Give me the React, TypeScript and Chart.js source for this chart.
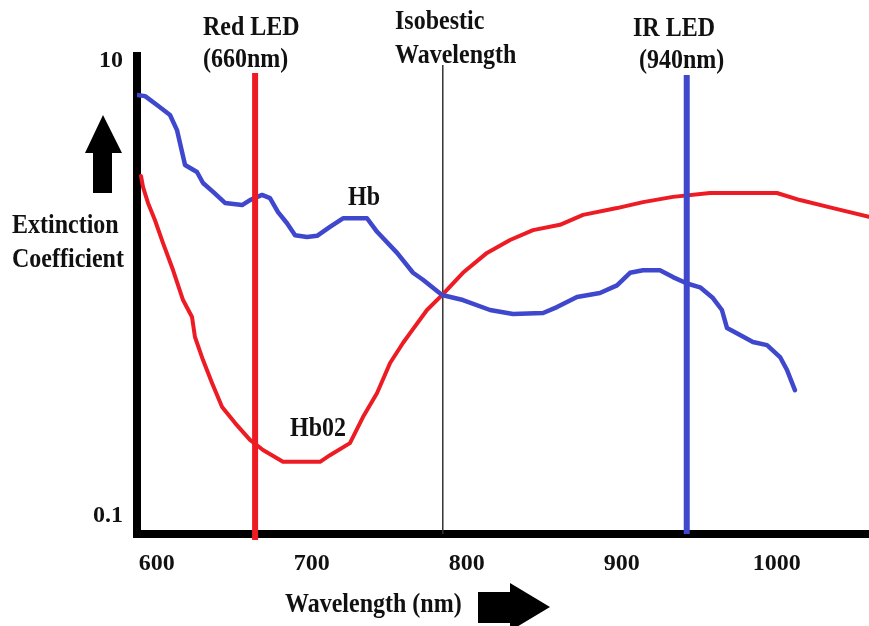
import React, { useEffect, useRef } from "react";
import { Chart, registerables } from "chart.js";

Chart.register(...registerables);

// Axis ticks
const wavelengthTicks = [600, 700, 800, 900, 1000];
const coefficientTicks = [0.1, 10];
const xRange = [587.2, 1059.5];
const yRange = [0.0834, 10.47];

// Hb (deoxy-haemoglobin) curve
const hbWavelength = [
  587.2, 592.4, 600.1, 608.5, 613.0, 618.2, 625.9, 629.8, 636.3, 644.0,
  655.0, 660.1, 667.9, 673.0, 678.2, 684.0, 689.2, 696.9, 703.4, 711.7,
  720.1, 735.6, 742.1, 755.0, 765.3, 771.7, 784.0, 797.5, 815.0, 829.8,
  849.2, 858.2, 871.1, 885.9, 896.9, 905.3, 913.7, 924.6, 933.0, 942.1,
  950.5, 958.8, 964.6, 967.9, 976.3, 984.6, 993.7, 1002.1, 1006.6, 1011.7,
];
const hbValues = [
  7.06, 6.98, 6.38, 5.77, 4.95, 3.48, 3.24, 2.9, 2.65, 2.37,
  2.32, 2.44, 2.57, 2.49, 2.16, 1.93, 1.71, 1.68, 1.7, 1.86,
  2.03, 2.03, 1.77, 1.43, 1.17, 1.09, 0.934, 0.888, 0.803, 0.771,
  0.779, 0.827, 0.915, 0.953, 1.03, 1.17, 1.2, 1.2, 1.12, 1.05,
  1.01, 0.906, 0.803, 0.669, 0.623, 0.581, 0.563, 0.499, 0.438, 0.357,
];

// HbO2 (oxy-haemoglobin) curve
const hbo2Wavelength = [
  589.8, 591.1, 594.3, 598.8, 604.0, 610.5, 616.9, 622.7, 624.6, 629.8,
  635.6, 642.1, 650.5, 660.1, 668.5, 681.4, 705.3, 711.7, 724.6, 733.0,
  742.1, 750.5, 758.8, 763.4, 774.3, 784.0, 797.5, 813.0, 827.9, 842.7,
  860.1, 875.0, 896.9, 913.7, 933.0, 956.9, 1000.1, 1015.0, 1036.3, 1059.5,
];
const hbo2Values = [
  3.11, 2.78, 2.37, 1.99, 1.58, 1.2, 0.888, 0.748, 0.611, 0.484,
  0.384, 0.301, 0.256, 0.216, 0.195, 0.173, 0.173, 0.185, 0.209, 0.272,
  0.347, 0.47, 0.575, 0.636, 0.803, 0.934, 1.17, 1.43, 1.63, 1.8,
  1.9, 2.1, 2.25, 2.39, 2.52, 2.62, 2.62, 2.44, 2.25, 2.06,
];

// Marker lines (wavelength, [bottom, top])
const redLedNm = 663.4;
const redLedSpan = [0.0785, 8.81];
const isobesticNm = 784.5;
const isobesticSpan = [0.0834, 9.56];
const irLedNm = 941.9;
const irLedSpan = [0.0834, 8.64];

const RED = "#ed1c24";
const BLUE = "#3f48cc";
const INK = "#111111";
const FONT = "'Liberation Serif', 'Times New Roman', serif";

const toPoints = (xs: number[], ys: number[]) => xs.map((x, i) => ({ x, y: ys[i] }));
const vLine = (x: number, span: number[]) => [
  { x, y: span[0] },
  { x, y: span[1] },
];

const annotationPlugin = {
  id: "annotations",
  afterDraw(chart: any) {
    const ctx = chart.ctx as CanvasRenderingContext2D;
    ctx.save();
    ctx.fillStyle = INK;
    ctx.font = `bold 24px ${FONT}`;
    ctx.textBaseline = "alphabetic";
    ctx.textAlign = "left";
    const sy = 1.12;
    const text = (s: string, x: number, y: number) => {
      ctx.save();
      ctx.translate(x, y);
      ctx.scale(1, sy);
      ctx.fillText(s, 0, 0);
      ctx.restore();
    };
    text("Red LED", 203, 35);
    text("(660nm)", 203, 67);
    text("Isobestic", 395, 29);
    text("Wavelength", 395, 63);
    text("IR LED", 633, 36);
    text("(940nm)", 639, 68);
    text("Hb", 348, 205);
    text("Hb02", 290, 436);
    text("Extinction", 12, 233);
    text("Coefficient", 12, 267);
    text("Wavelength (nm)", 285, 612);

    // up arrow
    ctx.fillStyle = "#000";
    ctx.beginPath();
    ctx.moveTo(103, 115);
    ctx.lineTo(122, 153);
    ctx.lineTo(112, 153);
    ctx.lineTo(112, 193);
    ctx.lineTo(93, 193);
    ctx.lineTo(93, 153);
    ctx.lineTo(85, 153);
    ctx.closePath();
    ctx.fill();

    // right arrow
    ctx.beginPath();
    ctx.moveTo(478, 592);
    ctx.lineTo(510, 592);
    ctx.lineTo(510, 583);
    ctx.lineTo(550, 607);
    ctx.lineTo(510, 631);
    ctx.lineTo(510, 623);
    ctx.lineTo(478, 623);
    ctx.closePath();
    ctx.fill();
    ctx.restore();
  },
};

export default function App() {
  const canvasRef = useRef<HTMLCanvasElement | null>(null);

  useEffect(() => {
    if (!canvasRef.current) return;
    const tickFont = { family: FONT, size: 24, weight: "bold" as const };
    const chart = new Chart(canvasRef.current, {
      type: "line",
      data: {
        datasets: [
          {
            label: "Red LED",
            data: vLine(redLedNm, redLedSpan),
            borderColor: RED,
            borderWidth: 6,
            pointRadius: 0,
            clip: false as any,
          },
          {
            label: "IR LED",
            data: vLine(irLedNm, irLedSpan),
            borderColor: BLUE,
            borderWidth: 6,
            pointRadius: 0,
            clip: false as any,
          },
          {
            label: "Hb",
            data: toPoints(hbWavelength, hbValues),
            borderColor: BLUE,
            borderWidth: 4.5,
            pointRadius: 0,
            tension: 0,
            borderCapStyle: "round",
            borderJoinStyle: "round",
          },
          {
            label: "Hb02",
            data: toPoints(hbo2Wavelength, hbo2Values),
            borderColor: RED,
            borderWidth: 4,
            pointRadius: 0,
            tension: 0,
            borderCapStyle: "round",
            borderJoinStyle: "round",
          },
          {
            label: "Isobestic",
            data: vLine(isobesticNm, isobesticSpan),
            borderColor: "#333333",
            borderWidth: 1.5,
            pointRadius: 0,
          },
        ],
      },
      options: {
        responsive: false,
        animation: false,
        events: [],
        layout: { padding: { top: 56, right: 0, left: 0, bottom: 0 } },
        plugins: {
          legend: { display: false },
          tooltip: { enabled: false },
          title: { display: false },
        },
        scales: {
          x: {
            type: "linear",
            min: xRange[0],
            max: xRange[1],
            grid: { display: false, drawTicks: false },
            border: { display: true, color: "#000", width: 8 },
            afterBuildTicks: (scale: any) => {
              scale.ticks = wavelengthTicks.map((v) => ({ value: v }));
            },
            afterFit: (scale: any) => {
              scale.height = 92;
            },
            ticks: {
              autoSkip: false,
              maxRotation: 0,
              padding: 15,
              color: INK,
              font: tickFont,
              callback: (v: any) => String(v),
            },
          },
          y: {
            type: "logarithmic",
            min: yRange[0],
            max: yRange[1],
            grid: { display: false, drawTicks: false },
            border: { display: true, color: "#000", width: 8 },
            afterBuildTicks: (scale: any) => {
              scale.ticks = coefficientTicks.map((v) => ({ value: v }));
            },
            afterFit: (scale: any) => {
              scale.width = 137;
            },
            ticks: {
              autoSkip: false,
              padding: 14,
              color: INK,
              font: tickFont,
              callback: (v: any) => String(v),
            },
          },
        },
      },
      plugins: [annotationPlugin],
    });
    return () => chart.destroy();
  }, []);

  return (
    <div
      style={{
        position: "fixed",
        left: 0,
        top: 0,
        width: 869,
        height: 626,
        background: "#fff",
      }}
    >
      <canvas ref={canvasRef} width={869} height={626} style={{ width: 869, height: 626, display: "block" }} />
    </div>
  );
}
